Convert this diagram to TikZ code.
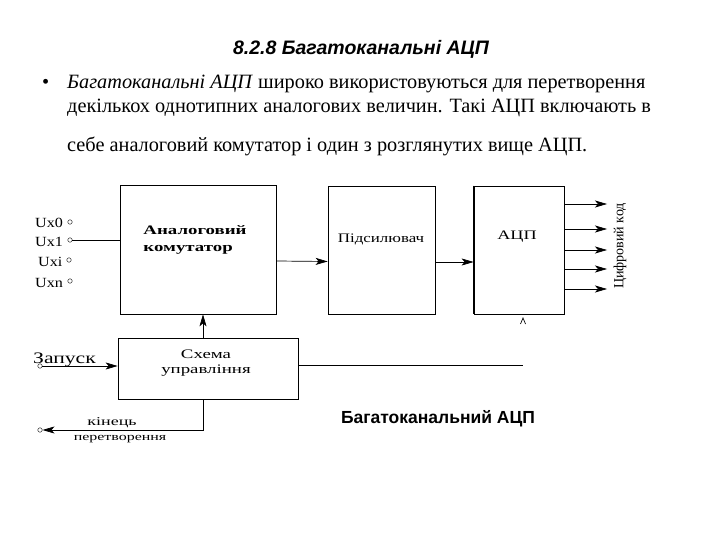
\documentclass[tikz,border=0pt]{standalone}
\usepackage{fontspec}
\setmainfont{Liberation Serif}
\setsansfont{Liberation Sans}
\usetikzlibrary{arrows.meta}
\begin{document}
\begin{tikzpicture}[x=1pt,y=-1pt,
  box/.style={draw, line width=0.7pt, rectangle, inner sep=0pt},
  pin/.style={circle, draw, inner sep=0pt, minimum size=4.5pt},
  lbl/.style={font=\fontsize{14}{16}\selectfont, anchor=base west, inner sep=0pt},
  boxtxt/.style={font=\fontsize{13}{15}\selectfont, inner sep=0pt},
  body/.style={font=\fontsize{20.3}{24}\selectfont, anchor=base west, inner sep=0pt},
  conn/.style={line width=0.7pt},
  arr/.style={line width=0.7pt, -{Stealth[length=12pt,width=7pt,inset=3pt]}}]
\useasboundingbox (0,0) rectangle (720,540);
% heading and text
\node[font=\sffamily\bfseries\itshape\fontsize{19.5}{22}\selectfont, anchor=base, inner sep=0pt] (title) at (361,55) {8.2.8 Багатоканальні АЦП};
\node[body] (bul) at (42,89) {•};
\node[body] (l1) at (67,89) {\textit{Багатоканальні АЦП} широко використовуються для перетворення};
\node[body] (l2) at (67,113) {декількох однотипних аналогових величин. Такі АЦП включають в};
\node[body] (l3) at (67,152) {себе аналоговий комутатор і один з розглянутих вище АЦП.};
% blocks
\node[box, minimum width=156pt, minimum height=129pt] (comm) at (198,249.5) {};
\node[box, minimum width=107pt, minimum height=128pt] (amp) at (381.5,250) {};
\node[box, minimum width=90pt, minimum height=128pt] (adc) at (519,250) {};
\node[box, minimum width=180pt, minimum height=61pt] (ctrl) at (208,368.5) {};
\draw[line width=1.4pt] (adc.north west) -- (adc.south west);
\node[boxtxt, font=\bfseries\fontsize{13}{17}\selectfont, align=left] (commt) at (195,240) {\scalebox{1.45}[1]{Аналоговий}\\\scalebox{1.45}[1]{комутатор}};
\node[boxtxt] (ampt) at (381,239) {\scalebox{1.3}[1]{Підсилювач}};
\node[boxtxt] (adct) at (517,237) {\scalebox{1.4}[1]{АЦП}};
\node[boxtxt, align=center] (ctrlt) at (206,363) {\scalebox{1.45}[1]{Схема}\\\scalebox{1.45}[1]{управління}};
% inputs
\node[lbl] (u0) at (35,228) {\scalebox{1.15}[1]{Ux0}};
\node[lbl] (u1) at (35,246) {\scalebox{1.15}[1]{Ux1}};
\node[lbl] (ui) at (38,266) {\scalebox{1.15}[1]{Uxi}};
\node[lbl] (un) at (35,287) {\scalebox{1.15}[1]{Uxn}};
\node[pin] (c0) at (70,222) {};
\node[pin] (c1) at (70,240) {};
\node[pin] (ci) at (69,260) {};
\node[pin] (cn) at (70,281) {};
\draw[conn] (c1.east) -- (c1.east -| comm.west);
% signal path
\draw[arr] ([yshift=-11.5pt]comm.east) -- ([yshift=-11.5pt]amp.west);
\draw[arr] ([yshift=-12pt]amp.east) -- ([yshift=-12pt]adc.west);
% outputs
\coordinate (o1) at (607,204);
\coordinate (o2) at (607,229);
\coordinate (o3) at (607,250);
\coordinate (o4) at (607,269);
\coordinate (o5) at (607,289);
\foreach \o in {o1,o2,o3,o4,o5} \draw[arr] (adc.east |- \o) -- (\o);
\node[font=\fontsize{14}{16}\selectfont, rotate=90, inner sep=0pt] (code) at (620,246) {Цифровий код};
% control
\draw[arr] ([xshift=-5pt]ctrl.north) -- ([xshift=5pt]comm.south);
\coordinate (ctlend) at (523,365);
\draw[conn] (ctrl.east |- ctlend) -- (ctlend);
\draw[conn] (520.5,324) -- (523,318) -- (525.5,324);
\node[pin] (cz) at (40,366) {};
\node[font=\fontsize{16}{18}\selectfont, anchor=base west, inner sep=0pt] (zap) at (33,363) {\scalebox{1.35}[1]{Запуск}};
\draw[arr] (cz.east) -- (cz.east -| ctrl.west);
\coordinate (kbend) at (203,430);
\node[pin] (ck) at (40,430) {};
\draw[arr] ([xshift=-5pt]ctrl.south) -- (kbend) -- (ck.east);
\node[font=\fontsize{12}{14}\selectfont, anchor=base, inner sep=0pt] (kin) at (112,425) {\scalebox{1.5}[1]{кінець}};
\node[font=\fontsize{11}{13}\selectfont, anchor=base, inner sep=0pt] (per) at (120,440) {\scalebox{1.45}[1]{перетворення}};
\node[font=\sffamily\bfseries\fontsize{17.5}{20}\selectfont, anchor=base, inner sep=0pt] (cap) at (438,423) {Багатоканальний АЦП};
\end{tikzpicture}
\end{document}
